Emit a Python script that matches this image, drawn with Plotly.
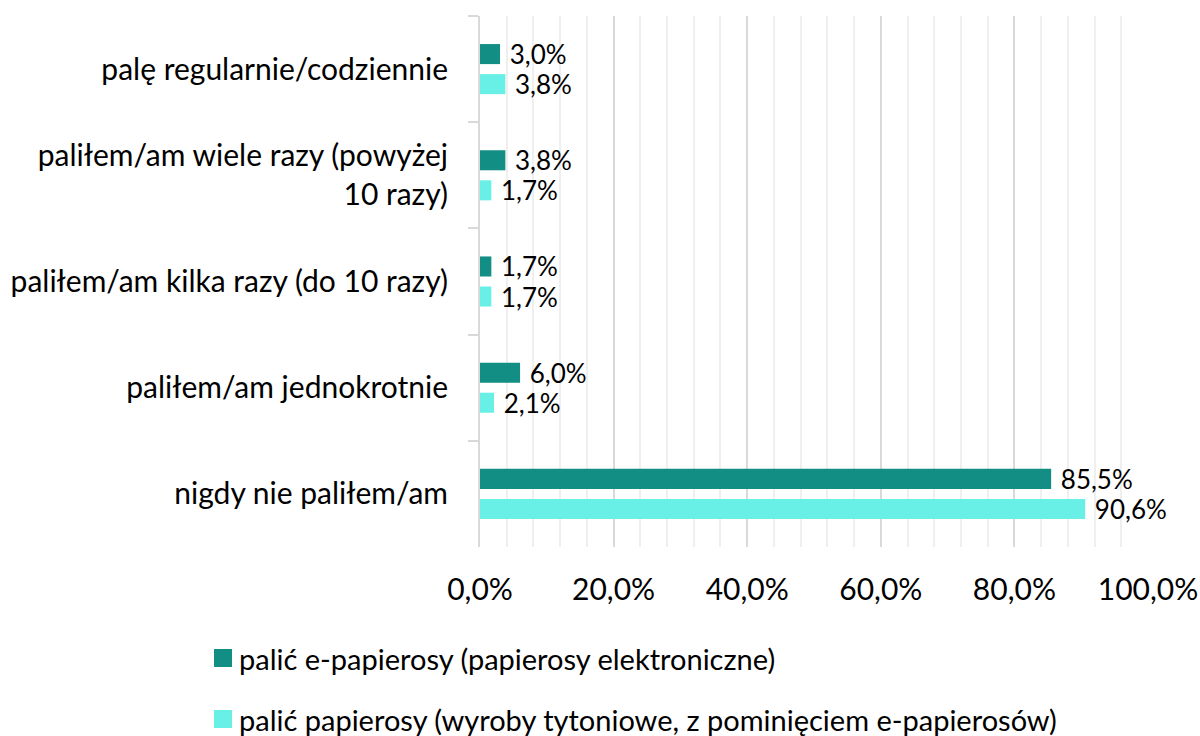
import plotly.graph_objects as go

# Survey answers (top to bottom) and shares in percent
categories = [
    "palę regularnie/codziennie",
    "paliłem/am wiele razy (powyżej<br>10 razy)",
    "paliłem/am kilka razy (do 10 razy)",
    "paliłem/am jednokrotnie",
    "nigdy nie paliłem/am",
]
e_cigarettes = [3.0, 3.8, 1.7, 6.0, 85.5]
cigarettes = [3.8, 1.7, 1.7, 2.1, 90.6]

series_names = [
    "palić e-papierosy (papierosy elektroniczne)",
    "palić papierosy (wyroby tytoniowe, z pominięciem e-papierosów)",
]
series_colors = ["#128E84", "#69F0E6"]

x_ticks = [0, 20, 40, 60, 80, 100]
x_tick_labels = ["0,0%", "20,0%", "40,0%", "60,0%", "80,0%", "100,0%"]

FONT = "Lato"
SIZE = 30
LABEL_SIZE = 26

# Plot area in pixels (figure is 1200 x 736)
W, H = 1200, 736
L, R, T, B = 480, 52, 16, 189
plot_w = W - L - R
plot_h = H - T - B


def px_to_paper_x(px):
    return (px - L) / plot_w


def px_to_paper_y(py):
    return (H - B - py) / plot_h


fig = go.Figure()
for name, values, color in zip(series_names, [e_cigarettes, cigarettes], series_colors):
    fig.add_trace(
        go.Bar(
            y=categories,
            x=values,
            orientation="h",
            name=name,
            marker=dict(color=color, line=dict(width=0)),
            texttemplate="\u00a0%{x:.1f}%",
            textposition="outside",
            constraintext="none",
            textfont=dict(family=FONT, size=LABEL_SIZE, color="#000000"),
            cliponaxis=False,
            showlegend=False,
        )
    )

# Legend: coloured squares with their series names, stacked below the axis
legend_rows_y = [658, 719]
for name, color, cy in zip(series_names, series_colors, legend_rows_y):
    fig.add_shape(
        type="rect",
        xref="paper",
        yref="paper",
        x0=px_to_paper_x(214),
        x1=px_to_paper_x(232),
        y0=px_to_paper_y(cy - 9),
        y1=px_to_paper_y(cy + 9),
        fillcolor=color,
        line=dict(width=0),
    )
    fig.add_annotation(
        xref="paper",
        yref="paper",
        x=px_to_paper_x(237),
        y=px_to_paper_y(cy),
        xanchor="left",
        yanchor="middle",
        text=name,
        showarrow=False,
        font=dict(family=FONT, size=29, color="#000000"),
    )

fig.update_layout(
    width=W,
    height=H,
    separators=", ",
    paper_bgcolor="white",
    plot_bgcolor="white",
    font=dict(family=FONT, size=SIZE, color="#000000"),
    margin=dict(l=L, r=R, t=T, b=B, autoexpand=False),
    barmode="group",
    bargap=0.434,
    bargroupgap=0.333,
    showlegend=False,
)

fig.update_xaxes(
    range=[0, 100],
    tickmode="array",
    tickvals=x_ticks,
    ticktext=x_tick_labels,
    tickangle=0,
    automargin=False,
    showgrid=True,
    gridcolor="#D9D9D9",
    gridwidth=2,
    minor=dict(dtick=4, showgrid=True, gridcolor="#EFEFEF", gridwidth=2),
    zeroline=False,
    showline=False,
    ticks="",
    ticklabelstandoff=22,
    tickfont=dict(family=FONT, size=SIZE, color="#000000"),
)

fig.update_yaxes(
    autorange="reversed",
    categoryorder="array",
    categoryarray=categories,
    automargin=False,
    showline=True,
    linecolor="#D9D9D9",
    linewidth=2,
    ticks="outside",
    tickson="boundaries",
    ticklen=10,
    tickcolor="#D9D9D9",
    tickwidth=2,
    showgrid=False,
    ticklabelstandoff=24,
    tickfont=dict(family=FONT, size=SIZE, color="#000000"),
)

fig.write_html("out.html")
